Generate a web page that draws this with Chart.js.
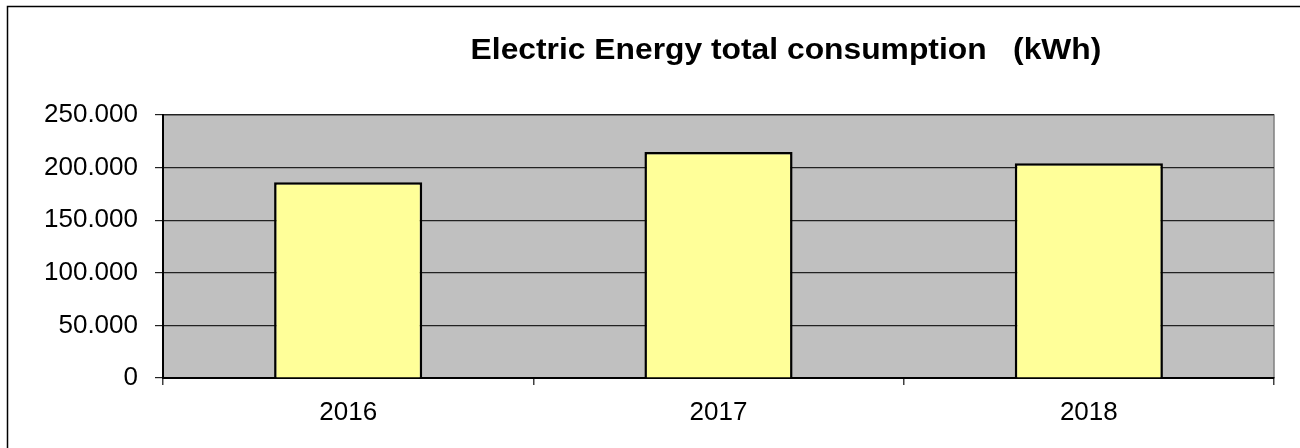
<!DOCTYPE html>
<html>
<head>
<meta charset="utf-8">
<script src="https://cdn.jsdelivr.net/npm/chart.js@4.4.1/dist/chart.umd.min.js"></script>
<style>
    html, body { margin: 0; padding: 0; background: #fff; }
    #wrap { position: relative; width: 1300px; height: 448px; }
</style>
</head>
<body>
<div id="wrap"><canvas id="energy-chart" width="1300" height="448"></canvas></div>
<script>
const years = ["2016", "2017", "2018"];
const consumption = [186000, 214800, 204100];
const yTicks = [0, 50000, 100000, 150000, 200000, 250000];
const chartTitle = "Electric Energy total consumption   (kWh)";

const FONT = "'Liberation Sans', Arial, sans-serif";

// white page, outer frame, grey plot area and the title
const frameAndTitle = {
    id: "frameAndTitle",
    beforeDraw(chart) {
        const { ctx, chartArea: a } = chart;
        ctx.save();
        ctx.fillStyle = "#fff";
        ctx.fillRect(0, 0, chart.width, chart.height);
        ctx.strokeStyle = "#000";
        ctx.lineWidth = 1.5;
        ctx.beginPath();
        ctx.moveTo(7.5, chart.height);
        ctx.lineTo(7.5, 6.5);
        ctx.lineTo(chart.width, 6.5);
        ctx.stroke();
        ctx.fillStyle = "#c0c0c0";
        ctx.fillRect(a.left, a.top, a.right - a.left, a.bottom - a.top);
        ctx.strokeStyle = "#808080";
        ctx.lineWidth = 1.5;
        ctx.beginPath();
        ctx.moveTo(a.left, a.top);
        ctx.lineTo(a.right, a.top);
        ctx.lineTo(a.right, a.bottom);
        ctx.stroke();
        // title, a bit condensed like the original
        ctx.fillStyle = "#000";
        ctx.font = "bold 30px " + FONT;
        ctx.textAlign = "center";
        ctx.textBaseline = "alphabetic";
        ctx.translate(786, 59);
        ctx.scale(1.06, 1);
        ctx.fillText(chartTitle, 0, 0);
        ctx.restore();
    },
};

new Chart(document.getElementById("energy-chart"), {
    type: "bar",
    data: {
        labels: years,
        datasets: [
            {
                label: chartTitle,
                data: consumption,
                backgroundColor: "#ffff99",
                borderColor: "#000",
                borderWidth: 2.5,
                barPercentage: 0.4,
                categoryPercentage: 1,
            },
        ],
    },
    options: {
        responsive: false,
        animation: false,
        devicePixelRatio: 1,
        layout: { padding: { left: 0, top: 115, right: 26, bottom: 0 } },
        plugins: {
            legend: { display: false },
            tooltip: { enabled: false },
            title: { display: false },
        },
        scales: {
            x: {
                afterFit(scale) {
                    scale.height = 70;
                },
                grid: {
                    display: true,
                    drawOnChartArea: false,
                    drawTicks: true,
                    tickLength: 7,
                    color: "#404040",
                    lineWidth: 1.5,
                },
                border: { color: "#000", width: 2 },
                ticks: {
                    color: "#000",
                    padding: 12,
                    font: { family: FONT, size: 26 },
                },
            },
            y: {
                min: 0,
                max: 250000,
                afterFit(scale) {
                    scale.width = 163;
                },
                afterBuildTicks(scale) {
                    scale.ticks = yTicks.map((v) => ({ value: v }));
                },
                grid: {
                    color: "#222",
                    lineWidth: 1.2,
                    tickLength: 8,
                },
                border: { color: "#000", width: 2 },
                ticks: {
                    color: "#000",
                    padding: 17,
                    font: { family: FONT, size: 26 },
                    callback: (v) => (v === 0 ? "0" : v.toLocaleString("de-DE")),
                },
            },
        },
    },
    plugins: [frameAndTitle],
});
</script>
</body>
</html>
